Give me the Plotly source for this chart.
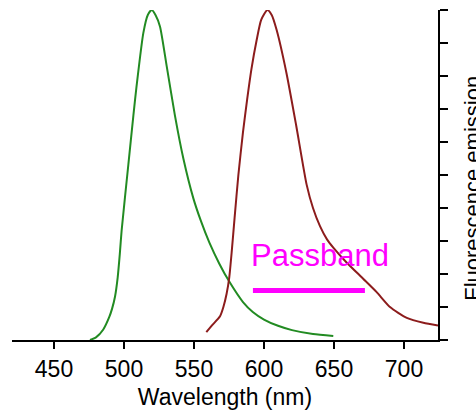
import plotly.graph_objects as go

# Green emission spectrum (wavelength nm, normalized emission)
green_wl = [475.7, 480, 485.2, 489.5, 491.5, 493.6, 495.5, 497, 498.3, 503.1, 506.7, 509.0,
            513.8, 517, 519.8, 522.5, 525.7, 530.5, 536.4, 542.4, 549.5, 555, 561, 568,
            575.2, 585, 592, 600, 610, 620, 635, 649.5]
green_v = [0.0, 0.008, 0.032, 0.07, 0.095, 0.132, 0.19, 0.26, 0.331, 0.531, 0.68, 0.77,
           0.93, 0.985, 1.0, 0.985, 0.95, 0.83, 0.68, 0.55, 0.43, 0.36, 0.295, 0.232,
           0.177, 0.115, 0.085, 0.062, 0.043, 0.03, 0.018, 0.012]

# Red emission spectrum
red_wl = [558.8, 563, 568.6, 571, 573.3, 575.2, 577, 579, 581.7, 585, 588, 591, 594.8, 598,
          602.4, 605.5, 609, 616, 623, 630.5, 635, 640, 645, 649.5, 659, 671, 680.5, 690,
          702, 713.8, 724.3]
red_v = [0.024, 0.045, 0.072, 0.10, 0.14, 0.19, 0.27, 0.37, 0.50, 0.63, 0.73, 0.82, 0.91,
         0.97, 1.0, 0.985, 0.94, 0.81, 0.65, 0.47, 0.40, 0.345, 0.305, 0.28, 0.235, 0.185,
         0.145, 0.10, 0.067, 0.052, 0.044]

# Passband marker
passband_wl = [592.1, 672.1]
passband_v = [0.15, 0.15]
passband_label = "Passband"

x_ticks = [450, 500, 550, 600, 650, 700]
x_range = [420, 724.3]

FONT = "Liberation Sans, Arial, Helvetica, sans-serif"

fig = go.Figure()
fig.add_trace(go.Scatter(x=green_wl, y=green_v, mode="lines",
                         line=dict(color="rgb(34,139,34)", width=2, shape="spline", smoothing=0.6),
                         hoverinfo="skip"))
fig.add_trace(go.Scatter(x=red_wl, y=red_v, mode="lines",
                         line=dict(color="rgb(140,28,28)", width=2, shape="spline", smoothing=0.6),
                         hoverinfo="skip"))
fig.add_trace(go.Scatter(x=passband_wl, y=passband_v, mode="lines",
                         line=dict(color="#ff00ff", width=5),
                         hoverinfo="skip"))

fig.add_annotation(x=589.3, y=0.257, xref="x", yref="y", text=passband_label,
                   showarrow=False, xanchor="left", yanchor="middle",
                   font=dict(family=FONT, size=31, color="#ff00ff"))

fig.add_annotation(x=1.082, y=0.461, xref="paper", yref="paper",
                   text="Fluorescence emission", textangle=-90, showarrow=False,
                   xanchor="center", yanchor="middle",
                   font=dict(family=FONT, size=22, color="black"))

fig.update_layout(
    width=476, height=416,
    margin=dict(l=12, r=38, t=10, b=72),
    paper_bgcolor="white", plot_bgcolor="white",
    showlegend=False,
    font=dict(family=FONT, size=23, color="black"),
    xaxis=dict(range=x_range, tickvals=x_ticks, ticktext=[str(t) for t in x_ticks],
               showline=True, linecolor="black", linewidth=2,
               ticks="outside", ticklen=7, tickwidth=2, tickcolor="black",
               showgrid=False, zeroline=False,
               tickfont=dict(family=FONT, size=23),
               title=dict(text="Wavelength (nm)", font=dict(family=FONT, size=23), standoff=8)),
    yaxis=dict(range=[0, 1], dtick=0.1, tick0=0, side="right",
               showline=True, linecolor="black", linewidth=2,
               ticks="outside", ticklen=8, tickwidth=2, tickcolor="black",
               showticklabels=False, showgrid=False, zeroline=False),
)

fig.write_html("out.html", config={"displayModeBar": False},
               post_script="document.body.style.margin='0';document.body.style.overflow='hidden';")
